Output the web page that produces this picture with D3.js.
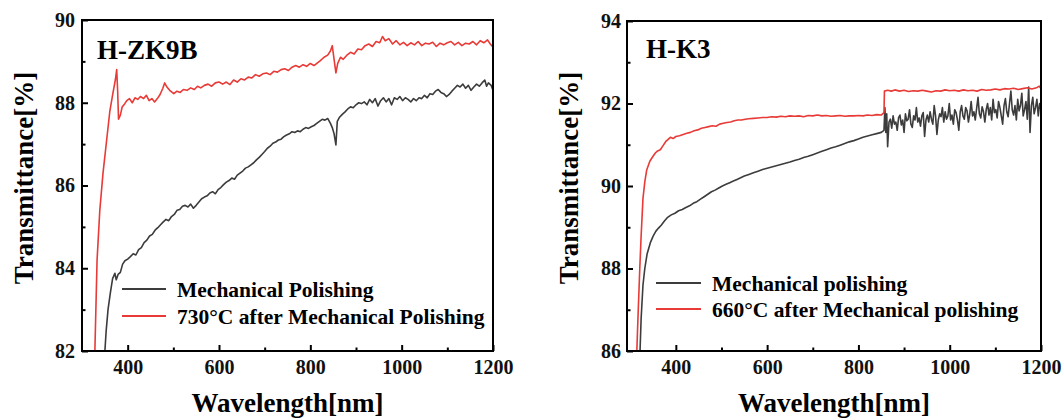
<!DOCTYPE html>
<html>
<head>
<meta charset="utf-8">
<script src="https://cdn.jsdelivr.net/npm/d3@7"></script>
<style>
  body { margin: 0; background: #fff; }
  text { font-family: "Liberation Serif", "DejaVu Serif", serif; }
</style>
</head>
<body>
<svg id="chart" width="1064" height="420"></svg>
<script>
// ---- data ----
var xTicks = [400, 600, 800, 1000, 1200];
var FONT = "Liberation Serif, DejaVu Serif, serif";

// H-ZK9B, mechanical polishing
var zk9bMpWl = [349,353,357,362,367,372,375,379,384,389,394,400,406,412,418,424,430,436,442,448,454,460,466,472,478,484,490,496,502,508,514,520,526,532,538,544,550,556,562,568,574,580,586,592,598,604,610,616,622,628,634,640,646,652,658,664,670,676,682,688,694,700,706,712,718,724,730,736,742,748,754,760,766,772,778,784,790,796,802,808,814,820,826,832,838,844,848,852,856,859,864,870,876,882,888,894,900,906,912,918,924,930,936,942,948,954,960,966,972,978,984,990,996,1002,1008,1014,1020,1026,1032,1038,1044,1050,1056,1062,1068,1074,1080,1086,1092,1098,1104,1110,1116,1122,1128,1134,1140,1146,1152,1158,1164,1170,1176,1182,1186,1190,1196,1200];
var zk9bMpT = [81.8,82.5,83.0,83.4,83.75,83.88,83.72,83.85,83.9,84.1,84.18,84.22,84.28,84.35,84.32,84.45,84.5,84.62,84.68,84.78,84.82,84.92,84.98,85.05,85.12,85.18,85.15,85.25,85.3,85.4,85.42,85.5,85.52,85.48,85.55,85.45,85.52,85.6,85.68,85.72,85.75,85.82,85.85,85.8,85.9,85.95,86.02,86.08,86.12,86.18,86.15,86.25,86.3,86.35,86.42,86.45,86.5,86.55,86.62,86.68,86.75,86.82,86.9,86.95,87.02,87.05,87.1,87.12,87.18,87.22,87.25,87.3,87.28,87.32,87.3,87.36,87.4,87.38,87.42,87.45,87.5,87.55,87.6,87.58,87.62,87.5,87.4,87.25,86.98,87.55,87.65,87.72,87.78,87.85,87.9,87.88,87.95,88.0,87.98,88.02,87.95,88.08,88.0,88.1,87.92,88.05,88.12,88.02,88.1,87.95,88.12,88.08,88.15,88.05,88.12,88.08,88.02,88.1,88.05,88.12,88.1,88.18,88.12,88.22,88.2,88.28,88.32,88.25,88.22,88.15,88.2,88.28,88.35,88.42,88.38,88.45,88.35,88.42,88.3,88.38,88.45,88.4,88.48,88.55,88.4,88.48,88.42,88.3];

// H-ZK9B, 730°C after mechanical polishing
var zk9b730Wl = [326,333,339,346,354,361,368,373,376,378,380,384,388,392,398,404,410,416,422,428,435,441,447,453,459,465,471,477,481,486,492,501,508,515,522,530,538,546,553,560,568,576,584,592,600,608,616,624,632,640,648,656,664,672,680,688,696,704,712,720,728,736,744,752,760,768,776,784,792,800,808,815,822,830,838,844,848,852,856,860,866,872,880,888,896,904,912,920,928,936,944,952,958,964,972,980,988,996,1004,1012,1020,1028,1036,1044,1052,1060,1068,1076,1084,1092,1100,1108,1116,1124,1132,1140,1148,1156,1164,1172,1180,1188,1194,1200];
var zk9b730T = [81.0,84.2,85.4,86.3,87.1,87.8,88.25,88.55,88.8,88.3,87.6,87.7,87.9,87.95,88.05,88.1,88.0,88.12,88.08,88.15,88.1,88.18,88.05,88.1,88.02,88.1,88.2,88.35,88.48,88.38,88.3,88.22,88.28,88.25,88.32,88.3,88.36,88.32,88.4,88.36,88.42,88.45,88.4,88.48,88.5,88.45,88.5,88.44,88.55,88.5,88.58,88.55,88.62,88.6,88.68,88.64,88.7,88.72,88.68,88.76,88.74,88.8,88.82,88.78,88.86,88.9,88.86,88.92,88.88,88.95,88.9,88.96,89.02,89.1,89.15,89.25,89.38,89.05,88.72,88.95,89.1,89.05,89.15,89.22,89.18,89.3,89.28,89.38,89.42,89.36,89.48,89.45,89.6,89.5,89.55,89.42,89.5,89.4,89.46,89.38,89.45,89.4,89.48,89.38,89.44,89.42,89.46,89.36,89.44,89.4,89.45,89.48,89.4,89.46,89.38,89.44,89.42,89.48,89.4,89.5,89.45,89.52,89.42,89.35];

// H-K3, mechanical polishing
var k3MpWl = [320,324,328,332,337,344,350,356,362,368,375,382,390,398,406,414,422,430,438,446,454,462,470,478,486,494,502,510,518,526,534,542,550,560,570,580,590,600,610,620,630,640,650,660,670,680,690,700,710,720,730,740,750,760,770,780,790,800,810,820,830,840,850,856,858,860,862,864,867,870,873,876,879,882,885,888,891,894,897,900,903,906,909,912,915,918,921,924,927,930,933,936,939,942,945,948,951,954,957,960,963,966,969,972,975,978,981,984,987,990,993,996,999,1002,1005,1008,1011,1014,1017,1020,1023,1026,1029,1032,1035,1038,1041,1044,1047,1050,1053,1056,1059,1062,1065,1068,1071,1074,1077,1080,1083,1086,1089,1092,1095,1098,1101,1104,1107,1110,1113,1116,1119,1122,1125,1128,1131,1134,1137,1140,1143,1146,1149,1152,1155,1158,1161,1164,1167,1170,1173,1176,1179,1182,1185,1188,1191,1194,1197,1200];
var k3MpT = [85.5,86.8,87.6,88.0,88.35,88.62,88.78,88.9,88.98,89.05,89.15,89.24,89.3,89.34,89.4,89.43,89.48,89.52,89.58,89.62,89.68,89.74,89.8,89.86,89.9,89.95,90.0,90.04,90.08,90.12,90.16,90.2,90.24,90.28,90.32,90.36,90.4,90.43,90.46,90.49,90.52,90.55,90.58,90.62,90.65,90.69,90.72,90.76,90.8,90.84,90.88,90.92,90.95,90.99,91.03,91.07,91.1,91.14,91.18,91.21,91.24,91.27,91.3,91.35,
  91.9,91.3,91.75,90.95,91.55,91.62,91.4,91.7,91.5,91.55,91.35,91.66,91.72,91.48,91.6,91.3,91.75,91.58,91.62,91.85,91.5,91.42,91.7,91.6,91.9,91.55,91.65,91.45,91.7,91.78,91.2,91.6,91.72,91.55,91.8,91.62,91.5,91.95,91.7,91.25,91.6,91.75,91.68,91.9,91.55,91.8,91.62,91.7,92.0,91.6,91.72,91.5,91.85,91.78,91.6,91.35,91.8,91.95,91.7,91.62,91.9,91.82,91.55,91.75,92.05,91.7,91.8,91.6,91.88,92.15,91.75,91.65,91.92,91.8,91.55,91.85,92.0,91.72,91.9,91.6,92.1,91.78,91.85,91.65,92.05,91.9,91.7,91.5,91.95,92.12,91.8,91.68,92.0,92.3,91.85,91.72,91.95,91.6,92.1,91.82,91.95,92.25,91.7,91.85,92.05,91.62,92.4,91.3,91.95,92.15,91.75,91.9,92.1,91.7,92.0,91.85];

// H-K3, 660°C after mechanical polishing
var k3660Wl = [313,317,321,324,328,332,336,343,350,355,360,366,372,378,382,388,394,400,408,416,424,432,440,448,456,464,472,480,488,496,504,512,520,528,536,544,552,560,570,580,590,600,610,620,630,640,650,660,670,680,690,700,710,720,730,740,750,760,770,780,790,800,810,820,830,840,850,856,857,864,872,880,890,900,910,920,930,940,950,960,970,980,990,1000,1010,1020,1030,1040,1050,1060,1070,1080,1090,1100,1110,1120,1130,1140,1150,1160,1170,1180,1190,1196,1200];
var k3660T = [85.5,86.8,88.0,88.8,89.7,90.1,90.38,90.6,90.72,90.8,90.85,90.88,90.98,91.08,91.12,91.18,91.15,91.2,91.22,91.25,91.28,91.3,91.34,91.36,91.4,91.42,91.44,91.46,91.45,91.5,91.52,91.54,91.55,91.58,91.6,91.6,91.62,91.63,91.64,91.65,91.66,91.66,91.68,91.67,91.69,91.68,91.7,91.69,91.7,91.68,91.71,91.7,91.72,91.7,91.71,91.69,91.7,91.71,91.69,91.7,91.7,91.71,91.7,91.72,91.71,91.73,91.72,91.78,92.3,92.32,92.3,92.33,92.3,92.32,92.29,92.31,92.3,92.32,92.3,92.28,92.31,92.3,92.33,92.31,92.32,92.3,92.33,92.31,92.32,92.3,92.34,92.32,92.33,92.35,92.33,92.36,92.35,92.37,92.34,92.36,92.38,92.35,92.38,92.42,92.36];

var panels = [
  { label: "H-ZK9B", x: 82, y: 20, w: 411, h: 331, xDomain: [300, 1200], yDomain: [82, 90], yTicks: [82, 84, 86, 88, 90],
    series: [
      { name: "Mechanical Polishing", wl: zk9bMpWl, t: zk9bMpT, color: "#3c3c3c" },
      { name: "730°C after Mechanical Polishing", wl: zk9b730Wl, t: zk9b730T, color: "#e83a36" }
    ],
    legend: { x1: 122, x2: 166, y: 289, dy: 27, tx: 177 } },
  { label: "H-K3", x: 627, y: 21, w: 414, h: 330, xDomain: [293, 1200], yDomain: [86, 94], yTicks: [86, 88, 90, 92, 94],
    series: [
      { name: "Mechanical polishing", wl: k3MpWl, t: k3MpT, color: "#3c3c3c" },
      { name: "660°C after Mechanical polishing", wl: k3660Wl, t: k3660T, color: "#e83a36" }
    ],
    legend: { x1: 656, x2: 701, y: 283, dy: 26, tx: 712 } }
];

var svg = d3.select("#chart").style("font-family", FONT);

panels.forEach(function(p, pi) {
  var g = svg.append("g").attr("transform", "translate(" + p.x + "," + p.y + ")");
  var x = d3.scaleLinear().domain(p.xDomain).range([0, p.w]);
  var y = d3.scaleLinear().domain(p.yDomain).range([p.h, 0]);

  g.append("clipPath").attr("id", "clip" + pi)
    .append("rect").attr("width", p.w).attr("height", p.h);

  // lines
  var line = d3.line().x(function(d) { return x(d[0]); }).y(function(d) { return y(d[1]); });
  p.series.forEach(function(s) {
    var pts = s.wl.map(function(w, i) { return [w, s.t[i]]; });
    g.append("path")
      .datum(pts)
      .attr("clip-path", "url(#clip" + pi + ")")
      .attr("fill", "none")
      .attr("stroke", s.color)
      .attr("stroke-width", 1.6)
      .attr("stroke-linejoin", "round")
      .attr("d", line);
  });

  // minor ticks
  var xMinor = [500, 700, 900, 1100];
  var yMinor = p.yTicks.slice(0, -1).map(function(v) { return v + 1; });

  var xAxis = d3.axisBottom(x).tickValues(xTicks).tickFormat(d3.format("d"))
    .tickSizeInner(-6).tickSizeOuter(0).tickPadding(9);
  var gx = g.append("g").attr("transform", "translate(0," + p.h + ")").call(xAxis);
  gx.append("g").call(d3.axisBottom(x).tickValues(xMinor).tickSizeInner(-3.5).tickSizeOuter(0).tickFormat(""));

  var yAxis = d3.axisLeft(y).tickValues(p.yTicks).tickFormat(d3.format("d"))
    .tickSizeInner(-6).tickSizeOuter(0).tickPadding(pi == 0 ? 7 : 6);
  var gy = g.append("g").call(yAxis);
  gy.append("g").call(d3.axisLeft(y).tickValues(yMinor).tickSizeInner(-3.5).tickSizeOuter(0).tickFormat(""));

  gx.attr("font-family", null).attr("font-size", null);
  gy.attr("font-family", null).attr("font-size", null);
  g.selectAll(".domain").remove();
  g.selectAll(".tick line").attr("stroke", "#000").attr("stroke-width", 2);
  g.selectAll(".tick text")
    .style("font-family", FONT).style("font-weight", "bold")
    .style("font-size", "20px").attr("fill", "#111");

  // frame
  g.append("rect").attr("width", p.w).attr("height", p.h)
    .attr("fill", "none").attr("stroke", "#000").attr("stroke-width", 2);

  // panel label
  g.append("text").attr("x", pi == 0 ? 15 : 19).attr("y", pi == 0 ? 39 : 37)
    .style("font-family", FONT).style("font-weight", "bold").style("font-size", "27px")
    .text(p.label);

  // axis titles
  svg.append("text").attr("text-anchor", "middle")
    .attr("x", p.x + p.w / 2).attr("y", 412)
    .style("font-family", FONT).style("font-weight", "bold").style("font-size", "27px")
    .text("Wavelength[nm]");
  svg.append("text").attr("text-anchor", "middle")
    .attr("transform", "translate(" + (p.x - 49) + "," + 178 + ") rotate(-90)")
    .style("font-family", FONT).style("font-weight", "bold").style("font-size", "27px")
    .text("Transmittance[%]");

  // legend
  p.series.forEach(function(s, i) {
    var ly = p.legend.y + i * p.legend.dy;
    svg.append("line").attr("x1", p.legend.x1).attr("x2", p.legend.x2)
      .attr("y1", ly).attr("y2", ly).attr("stroke", s.color).attr("stroke-width", 2);
    svg.append("text").attr("x", p.legend.tx).attr("y", ly + 7.5)
      .style("font-family", FONT).style("font-weight", "bold").style("font-size", "21.5px")
      .text(s.name);
  });
});
</script>
</body>
</html>
